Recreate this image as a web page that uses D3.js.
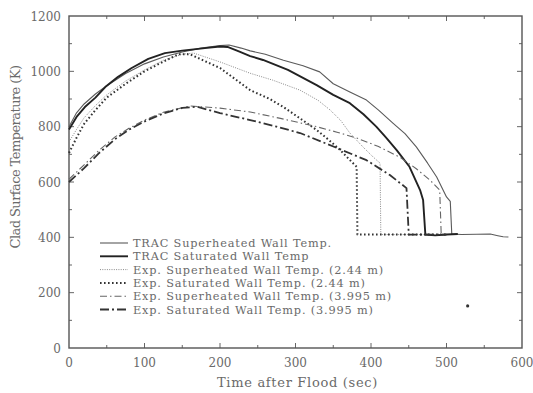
<!DOCTYPE html>
<html lang="en">
  <head>
    <title>Clad Surface Temperature after Flood</title>
    <script src="https://d3js.org/d3.v7.min.js"></script>
    <style>
      body { margin: 0; background: #fff; }
      text { font-family: "DejaVu Serif", "Liberation Serif", serif; fill: #6a6a6a; }
    </style>
  </head>
  <body>
    <div id="content"></div>
    <script>
      // time (sec) / temperature (K)
      var tracSupT = [0, 10, 20, 35, 50, 75, 100, 125, 150, 175, 200, 212, 228, 240, 260, 284, 310, 332, 350, 372, 394, 410, 429, 445, 460, 475, 487, 500, 505, 507, 520, 540, 558, 568, 575, 582];
      var tracSupK = [800, 850, 882, 918, 948, 992, 1027, 1052, 1070, 1084, 1093, 1095, 1084, 1074, 1062, 1040, 1020, 998, 955, 925, 896, 860, 813, 775, 727, 668, 618, 546, 530, 412, 410, 411, 412, 406, 402, 401];

      var tracSatT = [0, 10, 21, 35, 48, 65, 83, 105, 127, 150, 180, 200, 210, 225, 240, 257, 290, 328, 350, 372, 390, 407, 420, 434, 451, 465, 469, 472, 485, 500, 515];
      var tracSatK = [790, 835, 871, 905, 943, 980, 1012, 1045, 1066, 1075, 1084, 1090, 1088, 1072, 1055, 1041, 1005, 950, 915, 885, 845, 800, 760, 715, 655, 571, 535, 410, 407, 410, 412];

      var expSup244T = [0, 10, 20, 35, 50, 75, 100, 125, 150, 165, 200, 240, 270, 306, 330, 346, 360, 372, 390, 403, 412, 413, 440, 470];
      var expSup244K = [745, 790, 832, 876, 915, 965, 1005, 1040, 1062, 1066, 1034, 993, 968, 932, 895, 860, 822, 777, 725, 690, 668, 410, 410, 410];

      var expSat244T = [0, 10, 20, 35, 50, 75, 100, 125, 145, 160, 200, 240, 266, 284, 306, 328, 345, 359, 370, 381, 382, 420, 460, 500];
      var expSat244K = [705, 760, 810, 860, 905, 955, 1000, 1035, 1062, 1062, 1012, 932, 900, 871, 830, 788, 750, 716, 685, 655, 410, 410, 410, 410];

      var expSup3995T = [0, 20, 40, 61, 80, 101, 125, 160, 200, 240, 280, 328, 355, 381, 410, 438, 460, 478, 491, 493, 500];
      var expSup3995K = [610, 662, 715, 763, 795, 825, 852, 875, 867, 853, 830, 800, 780, 759, 728, 690, 648, 607, 571, 410, 410];

      var expSat3995T = [0, 20, 40, 61, 80, 101, 125, 150, 170, 200, 240, 275, 306, 355, 394, 425, 447, 450, 470, 500];
      var expSat3995K = [600, 650, 705, 755, 790, 820, 848, 868, 872, 849, 824, 800, 777, 723, 679, 625, 578, 410, 410, 410];

      var seriesNames = [
        "TRAC Superheated Wall Temp.",
        "TRAC Saturated Wall Temp",
        "Exp. Superheated Wall Temp. (2.44 m)",
        "Exp. Saturated Wall Temp. (2.44 m)",
        "Exp. Superheated Wall Temp. (3.995 m)",
        "Exp. Saturated Wall Temp. (3.995 m)"
      ];
      var strayT = [528];
      var strayK = [152];

      var xTicks = [0, 100, 200, 300, 400, 500, 600];
      var yTicks = [0, 200, 400, 600, 800, 1000, 1200];

      var width = 533, height = 393;
      var margin = { top: 16, right: 11, bottom: 45, left: 69 };
      var innerW = width - margin.left - margin.right;
      var innerH = height - margin.top - margin.bottom;

      var x = d3.scaleLinear().domain([0, 600]).range([0, innerW]);
      var y = d3.scaleLinear().domain([0, 1200]).range([innerH, 0]);

      var svg = d3.select("#content").append("svg")
        .attr("width", width).attr("height", height);
      var g = svg.append("g")
        .attr("transform", "translate(" + margin.left + "," + margin.top + ")");

      function zip(ts, ks) {
        return ts.map(function (t, i) { return [t, ks[i]]; });
      }
      // stretch a text's letter spacing so it spans a given width
      function fit(sel, target) {
        sel.each(function () {
          var n = this.textContent.length;
          var len = this.getComputedTextLength();
          d3.select(this).style("letter-spacing", ((target - len) / n) + "px");
        });
      }

      var series = [
        { pts: zip(tracSupT, tracSupK), color: "#5a5a5a", w: 1.1, dash: null },
        { pts: zip(tracSatT, tracSatK), color: "#222", w: 1.9, dash: null },
        { pts: zip(expSup244T, expSup244K), color: "#8a8a8a", w: 1, dash: "1,1.3" },
        { pts: zip(expSat244T, expSat244K), color: "#333", w: 2, dash: "1.6,2.4" },
        { pts: zip(expSup3995T, expSup3995K), color: "#666", w: 1.1, dash: "7,3,1.5,3" },
        { pts: zip(expSat3995T, expSat3995K), color: "#333", w: 1.8, dash: "9,3,2,3" }
      ];

      // ticks (inward, all four sides)
      var tickColor = "#666";
      function ticksX(vals, len, yPos, dir) {
        g.selectAll(null).data(vals).enter().append("line")
          .attr("x1", function (d) { return x(d); })
          .attr("x2", function (d) { return x(d); })
          .attr("y1", yPos).attr("y2", yPos + dir * len)
          .attr("stroke", tickColor).attr("stroke-width", 1);
      }
      function ticksY(vals, len, xPos, dir) {
        g.selectAll(null).data(vals).enter().append("line")
          .attr("y1", function (d) { return y(d); })
          .attr("y2", function (d) { return y(d); })
          .attr("x1", xPos).attr("x2", xPos + dir * len)
          .attr("stroke", tickColor).attr("stroke-width", 1);
      }
      var xMajor = d3.range(100, 600, 100), xMinor = d3.range(50, 600, 100);
      var yMajor = d3.range(200, 1200, 200), yMinor = d3.range(100, 1200, 200);
      ticksX(xMajor, 5, innerH, -1); ticksX(xMinor, 3, innerH, -1);
      ticksX(xMajor, 5, 0, 1); ticksX(xMinor, 3, 0, 1);
      ticksY(yMajor, 5, 0, 1); ticksY(yMinor, 3, 0, 1);
      ticksY(yMajor, 5, innerW, -1); ticksY(yMinor, 3, innerW, -1);

      g.append("rect")
        .attr("width", innerW).attr("height", innerH)
        .attr("fill", "none").attr("stroke", "#555").attr("stroke-width", 1.4);

      // tick labels
      g.selectAll(".xl").data(xTicks).enter().append("text")
        .attr("x", function (d) { return x(d); })
        .attr("y", innerH + 19)
        .attr("text-anchor", "middle")
        .style("font-size", "12px")
        .text(function (d) { return d; });
      g.selectAll(".yl").data(yTicks).enter().append("text")
        .attr("x", -8)
        .attr("y", function (d) { return y(d) + 4.5; })
        .attr("text-anchor", "end")
        .style("font-size", "12px")
        .text(function (d) { return d; });

      // axis titles
      var xTitle = svg.append("text")
        .attr("x", margin.left + innerW / 2 + 2)
        .attr("y", 387)
        .attr("text-anchor", "middle")
        .style("font-size", "13px")
        .text("Time after Flood (sec)");
      fit(xTitle, 161);
      var yTitle = svg.append("text")
        .attr("transform", "translate(20," + 157 + ") rotate(-90)")
        .attr("text-anchor", "middle")
        .style("font-size", "13px")
        .text("Clad Surface Temperature (K)");
      fit(yTitle, 183);

      var line = d3.line()
        .x(function (d) { return x(d[0]); })
        .y(function (d) { return y(d[1]); });

      g.selectAll(".series").data(series).enter().append("path")
        .attr("d", function (d) { return line(d.pts); })
        .attr("fill", "none")
        .attr("stroke", function (d) { return d.color; })
        .attr("stroke-width", function (d) { return d.w; })
        .attr("stroke-dasharray", function (d) { return d.dash; })
        .attr("stroke-linejoin", "round");

      g.selectAll(".stray").data(zip(strayT, strayK)).enter().append("circle")
        .attr("cx", function (d) { return x(d[0]); })
        .attr("cy", function (d) { return y(d[1]); })
        .attr("r", 1.6).attr("fill", "#333");

      // legend
      var legend = svg.selectAll(".legend").data(series).enter().append("g")
        .attr("transform", function (d, i) {
          return "translate(100," + (243 + i * 13.3) + ")";
        });
      legend.append("line")
        .attr("x1", 0).attr("x2", 28)
        .attr("stroke", function (d) { return d.color; })
        .attr("stroke-width", function (d) { return d.w; })
        .attr("stroke-dasharray", function (d) { return d.dash; });
      var legendText = legend.append("text")
        .attr("x", 33).attr("y", 4)
        .style("font-size", "11.3px")
        .text(function (d, i) { return seriesNames[i]; });
      // first row spans about 199 px in the figure; stretch all rows alike
      var firstLen = legendText.node().getComputedTextLength();
      var ls = (199 - firstLen) / seriesNames[0].length;
      legendText.style("letter-spacing", ls + "px");
    </script>
  </body>
</html>
